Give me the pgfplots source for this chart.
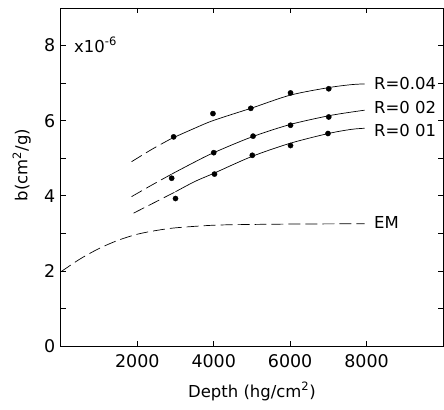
\documentclass[border=0pt]{standalone}
\usepackage{fontspec}
\setmainfont{DejaVu Sans}
\usepackage{pgfplots}
\pgfplotsset{compat=1.18}

\begin{document}
\begin{tikzpicture}
\fontsize{16.5}{19}\selectfont
\begin{axis}[
  name=ax,
  scale only axis, width=383pt, height=339pt,
  xmin=0, xmax=10000, ymin=0, ymax=9,
  xtick={2000,4000,6000,8000},
  ytick={0,2,4,6,8},
  minor ytick={1,3,5,7},
  tick align=inside, major tick length=5pt, minor tick length=5pt,
  xtick pos=both, ytick pos=both,
  xticklabel pos=bottom, yticklabel pos=left,
  scaled ticks=false,
  /pgf/number format/assume math mode=true,
  /pgf/number format/set thousands separator={},
  tick label style={font=\fontsize{17.5}{19}\selectfont},
  label style={font=\fontsize{16.5}{19}\selectfont},
  xticklabel style={yshift=-3pt},
  xlabel={Depth (hg/cm\textsuperscript{2})},
  ylabel={b(cm\textsuperscript{2}/g)},
  xlabel style={yshift=-3pt},
  ylabel style={yshift=2pt, xshift=12pt},
  axis line style={line width=0.8pt},
  every tick/.style={line width=0.8pt, black},
  clip=false,
]
% R = 0.04
\addplot[line width=0.7pt, dash pattern=on 12pt off 5pt, smooth] coordinates {
  (1850,4.91) (2400,5.25) (2900,5.53)};
\addplot[line width=0.7pt, smooth] coordinates {
  (2900,5.53) (3500,5.80) (4000,6.01) (5000,6.34) (6000,6.68) (7000,6.88) (7600,6.96) (7950,6.98)};
\addplot[only marks, mark=*, mark size=2.6pt] coordinates {
  (2950,5.57) (3980,6.19) (4970,6.33) (6010,6.74) (7010,6.85)};
% R = 0.02
\addplot[line width=0.7pt, dash pattern=on 12pt off 5pt, smooth] coordinates {
  (1850,3.98) (2400,4.30) (2900,4.58)};
\addplot[line width=0.7pt, smooth] coordinates {
  (2900,4.58) (3500,4.90) (4000,5.15) (5000,5.57) (6000,5.90) (7000,6.13) (7600,6.23) (7950,6.28)};
\addplot[only marks, mark=*, mark size=2.6pt] coordinates {
  (2900,4.47) (4000,5.15) (5030,5.59) (6010,5.88) (7010,6.10)};
% R = 0.01
\addplot[line width=0.7pt, dash pattern=on 12pt off 5pt, smooth] coordinates {
  (1900,3.54) (2500,3.85) (3000,4.11)};
\addplot[line width=0.7pt, smooth] coordinates {
  (3000,4.11) (3500,4.38) (4000,4.60) (5000,5.05) (6000,5.40) (7000,5.66) (7600,5.77) (7950,5.80)};
\addplot[only marks, mark=*, mark size=2.6pt] coordinates {
  (3000,3.93) (4020,4.58) (5010,5.08) (6010,5.34) (6990,5.66)};
% EM
\addplot[line width=0.7pt, dash pattern=on 12pt off 5pt, smooth] coordinates {
  (0,1.98) (500,2.32) (1000,2.60) (1500,2.82) (2000,2.98) (2500,3.08) (3000,3.15)
  (4000,3.22) (5000,3.24) (6000,3.25) (7950,3.26)};
\node[anchor=west] at (axis cs:8050,7.0) {R=0.04};
\node[anchor=west] at (axis cs:8050,6.35) {R=0 02};
\node[anchor=west] at (axis cs:8050,5.75) {R=0 01};
\node[anchor=west] at (axis cs:8050,3.3) {EM};
\node[anchor=west] at (axis cs:200,8.02) {x10\textsuperscript{-6}};
\end{axis}
\path ([xshift=-61pt,yshift=-63pt]ax.south west) rectangle ([xshift=1pt,yshift=8pt]ax.north east);
\end{tikzpicture}
\end{document}
